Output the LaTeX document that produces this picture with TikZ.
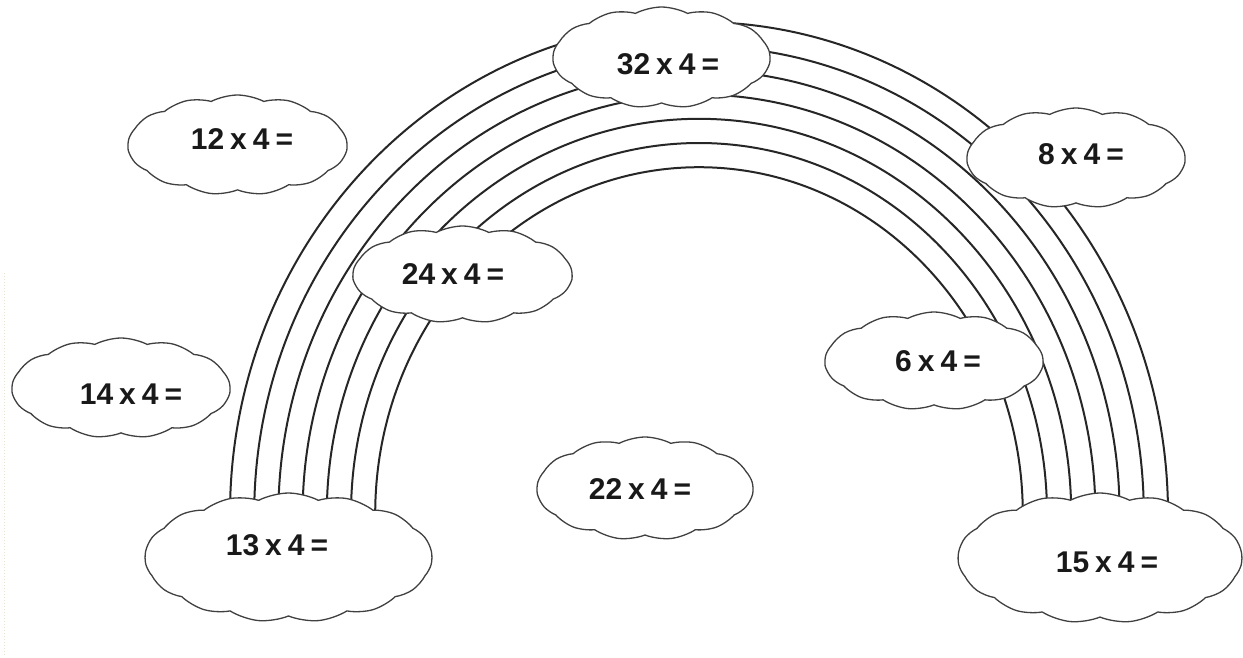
\documentclass[tikz,border=0pt]{standalone}
\usepackage{fontspec}
\setmainfont{Liberation Sans}
\usetikzlibrary{shapes.symbols}
\definecolor{edgefaint}{HTML}{E6E2CC}
\begin{document}
\begin{tikzpicture}[x=1pt,y=-1pt,
  band/.style={draw=black!85, line width=2pt},
  cloudbox/.style={cloud, cloud puffs=13, cloud puff arc=55, cloud ignores aspect,
    draw=black!75, line width=1.3pt, fill=white, inner sep=0pt},
  sumtext/.style={font=\bfseries\fontsize{30}{36}\selectfont, inner sep=0pt, text=black!90}]
\useasboundingbox[fill=white] (0,0) rectangle (1243,657);
% faint margin line
\draw[edgefaint, line width=1pt, dotted] (4,273) -- (4,655);
% rainbow bands
\foreach \k in {0,...,6}{
  \pgfmathsetmacro{\rx}{469-24.2*\k}
  \pgfmathsetmacro{\ry}{492-24.2*\k}
  \draw[band] (699-\rx,525) -- (699-\rx,514)
     arc[start angle=180, end angle=360, x radius=\rx, y radius=\ry] -- (699+\rx,525);
}
% clouds
\node[cloudbox, minimum width=217pt, minimum height=101pt] (c32) at (661.5,57.5) {};
\node[cloudbox, minimum width=219pt, minimum height=100pt] (c12) at (237.5,145) {};
\node[cloudbox, minimum width=218pt, minimum height=100pt] (c14) at (121,388) {};
\node[cloudbox, minimum width=219pt, minimum height=97pt] (c24) at (462.5,274.5) {};
\node[cloudbox, minimum width=218pt, minimum height=100pt] (c8) at (1076,158) {};
\node[cloudbox, minimum width=218pt, minimum height=98pt] (c6) at (934,361) {};
\node[cloudbox, minimum width=216pt, minimum height=103pt] (c22) at (645,488.5) {};
\node[cloudbox, cloud puffs=15, minimum width=287pt, minimum height=129pt] (c13) at (288.5,557.5) {};
\node[cloudbox, cloud puffs=15, minimum width=284pt, minimum height=130pt] (c15) at (1100,558) {};
% labels
\node[sumtext] (t32) at (668,64) {32\kern6pt x\kern6pt 4\kern6pt =};
\node[sumtext] (t12) at (242,139) {12\kern6pt x\kern6pt 4\kern6pt =};
\node[sumtext] (t14) at (131,394) {14\kern6pt x\kern6pt 4\kern6pt =};
\node[sumtext] (t24) at (453,274) {24\kern6pt x\kern6pt 4\kern6pt =};
\node[sumtext] (t8) at (1081,154) {8\kern6pt x\kern6pt 4\kern6pt =};
\node[sumtext] (t6) at (938,361) {6\kern6pt x\kern6pt 4\kern6pt =};
\node[sumtext] (t22) at (640,489) {22\kern6pt x\kern6pt 4\kern6pt =};
\node[sumtext] (t13) at (277,545) {13\kern6pt x\kern6pt 4\kern6pt =};
\node[sumtext] (t15) at (1107,562) {15\kern6pt x\kern6pt 4\kern6pt =};
\end{tikzpicture}
\end{document}
